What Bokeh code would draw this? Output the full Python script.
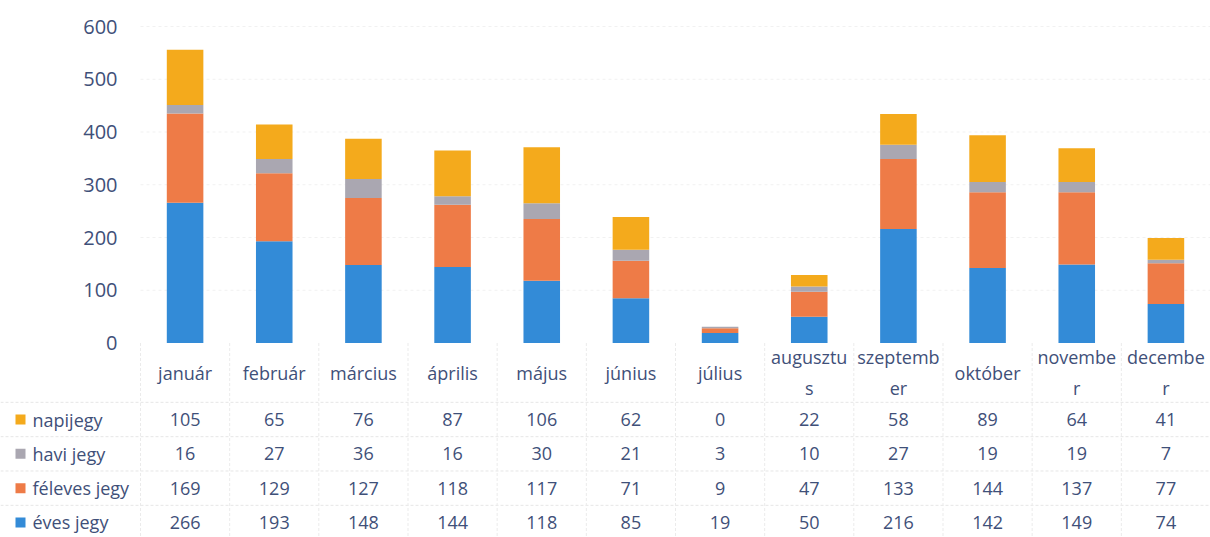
from bokeh.plotting import figure
from bokeh.models import Range1d, ColumnDataSource
from bokeh.core.properties import value
from bokeh.embed import file_html
from bokeh.resources import INLINE

# ---- data ----
months = ["január", "február", "március", "április", "május", "június",
          "július", "augusztus", "szeptember", "október", "november", "december"]
month_labels = ["január", "február", "március", "április", "május", "június",
                "július", "augusztu\ns", "szeptemb\ner", "október", "novembe\nr", "decembe\nr"]
napijegy = [105, 65, 76, 87, 106, 62, 0, 22, 58, 89, 64, 41]
havi_jegy = [16, 27, 36, 16, 30, 21, 3, 10, 27, 19, 19, 7]
feleves_jegy = [169, 129, 127, 118, 117, 71, 9, 47, 133, 144, 137, 77]
eves_jegy = [266, 193, 148, 144, 118, 85, 19, 50, 216, 142, 149, 74]
series_names = ["napijegy", "havi jegy", "féleves jegy", "éves jegy"]
y_ticks = [0, 100, 200, 300, 400, 500, 600]

# ---- styles / geometry ----
FONT = "Open Sans"
TXT = "#3F5079"
colors = {"éves jegy": "#338bd7", "féleves jegy": "#ee7b47",
          "havi jegy": "#aaa7b1", "napijegy": "#f4aa1c"}
W, H = 1210, 537
LEFT = 140                    # px reserved for the legend / y labels
COLW = (W - LEFT) / 12.0      # px per month column
PX = 0.5275                   # px per value unit
ZERO = 342.5                  # px from top where value 0 lies
ROWPX = 34.33                 # table row height in px
ROW0 = 76.5                   # px below zero line of first table row centre
HEAD = 29.5                   # px below zero line of header centre


def px2x(px):
    return (px - LEFT) / COLW


def px2y(px_below_zero):
    return -px_below_zero / PX


p = figure(width=W, height=H,
           x_range=Range1d(px2x(0), 12),
           y_range=Range1d(px2y(H - ZERO), ZERO / PX),
           output_backend="svg", toolbar_location=None,
           min_border_left=0, min_border_right=0, min_border_top=0,
           min_border_bottom=0)
p.axis.visible = False
p.grid.grid_line_color = None
p.outline_line_color = None

centers = [i + 0.5 for i in range(len(months))]

# gridlines of the chart (very faint in the original)
p.segment(x0=[0] * (len(y_ticks) - 1), x1=[12] * (len(y_ticks) - 1),
          y0=y_ticks[1:], y1=y_ticks[1:], line_color="#f1f1f1",
          line_dash="3 3", line_width=1)

# stacked bars
src = ColumnDataSource(dict(x=centers, eves=eves_jegy, feleves=feleves_jegy,
                            havi=havi_jegy, napi=napijegy))
p.vbar_stack(["eves", "feleves", "havi", "napi"], x="x", width=0.41,
             color=[colors["éves jegy"], colors["féleves jegy"],
                    colors["havi jegy"], colors["napijegy"]],
             line_color=None, source=src)

# value axis labels
p.text(x=[px2x(LEFT - 23)] * len(y_ticks), y=y_ticks,
       text=[str(v) for v in y_ticks], text_align="right",
       text_baseline="middle", text_font=value(FONT), text_font_size="20px",
       text_color=TXT)

# ---- data table ----
row_y = [px2y(ROW0 + ROWPX * k) for k in range(4)]
sep_y = [px2y(ROW0 + ROWPX * (k - 0.5)) for k in range(4)]
p.segment(x0=[px2x(0)] * 4, x1=[12] * 4, y0=sep_y, y1=sep_y,
          line_color="#e6e6e6", line_dash="3 2", line_width=1)
p.segment(x0=list(range(13)), x1=list(range(13)), y0=[0] * 13,
          y1=[px2y(H)] * 13, line_color="#ebebeb", line_dash="3 2",
          line_width=1)

p.text(x=centers, y=[px2y(HEAD)] * 12, text=month_labels, text_align="center",
       text_baseline="middle", text_font=value(FONT), text_font_size="18px",
       text_color=TXT, text_line_height=1.33)

series_vals = [napijegy, havi_jegy, feleves_jegy, eves_jegy]
for k, (name, vals) in enumerate(zip(series_names, series_vals)):
    p.text(x=centers, y=[row_y[k]] * 12, text=[str(v) for v in vals],
           text_align="center", text_baseline="middle", text_font=value(FONT),
           text_font_size="18px", text_color=TXT)
    p.scatter(x=[px2x(20)], y=[row_y[k]], marker="square", size=10,
              color=colors[name], line_color=None)
    p.text(x=[px2x(32)], y=[row_y[k]], text=[name], text_align="left",
           text_baseline="middle", text_font=value(FONT),
           text_font_size="18px", text_color=TXT)

open("out.html", "w").write(file_html(p, INLINE))
